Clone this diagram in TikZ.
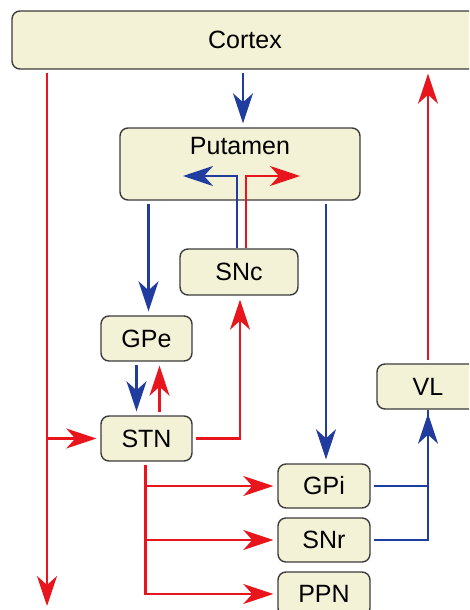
\documentclass[tikz,border=0pt]{standalone}
\usepackage{fontspec}
\setmainfont{Liberation Sans}
\usetikzlibrary{arrows.meta}
\definecolor{boxfill}{HTML}{F4F2D6}
\definecolor{boxline}{HTML}{3C3C3C}
\definecolor{exred}{HTML}{E8161C}
\definecolor{inblue}{HTML}{1F3C9E}

\begin{document}
\begin{tikzpicture}
  [x=1pt,y=-1pt,font=\fontsize{25}{28}\selectfont,
   area/.style={draw=boxline,line width=1.4pt,fill=boxfill,rounded corners=8pt,
     minimum width=91pt,minimum height=45pt,inner sep=0pt},
   excite/.style={draw=exred,line width=2.6pt,
     -{Stealth[length=30pt,width=20pt,inset=9pt]},shorten >=4pt,shorten <=3pt},
   inhibit/.style={excite,draw=inblue}]
  \clip (0,0) rectangle (469,610);

  \node[area,minimum width=466pt,minimum height=58pt] (ctx) at (245,40) {Cortex};
  \node[area,minimum width=240pt,minimum height=72pt,
    label={[anchor=north,yshift=-6pt]north:Putamen}] (put) at (240,164) {};
  \node[area,minimum width=118pt,minimum height=46pt] (snc) at (239,272) {SNc};
  \node[area] (gpe) at (146.5,338.5) {GPe};
  \node[area] (stn) at (146.5,438.5) {STN};
  \node[area,minimum width=92pt,minimum height=44pt] (gpi) at (324,486) {GPi};
  \node[area,minimum width=92pt,minimum height=44pt] (snr) at (324,540) {SNr};
  \node[area,minimum width=92pt,minimum height=44pt] (ppn) at (324,594) {PPN};
  \node[area,minimum width=102pt] (vl) at (428,386.5) {VL};

  \coordinate (pl) at (183,176);
  \coordinate (pr) at (300,176);
  \coordinate (bot) at (47,606);

  % cortex to putamen, inside putamen
  \draw[inhibit] ([xshift=3pt]put.north |- ctx.south) -- ([xshift=3pt]put.north);
  \draw[inhibit,shorten <=0pt,shorten >=0pt] ([xshift=-2pt]snc.north) |- (pl);
  \draw[excite,shorten <=0pt,shorten >=0pt] ([xshift=7pt]snc.north) |- (pr);

  % putamen outputs
  \draw[inhibit] ([xshift=2pt]gpe.north |- put.south) -- ([xshift=2pt]gpe.north);
  \draw[inhibit] ([xshift=2pt]gpi.north |- put.south) -- ([xshift=2pt]gpi.north);

  % gpe and stn
  \draw[inhibit] ([xshift=-10pt]gpe.south) -- ([xshift=-10pt]stn.north);
  \draw[excite] ([xshift=13pt]stn.north) -- ([xshift=13pt]gpe.south);
  \draw[excite] (stn.east) -| ([xshift=1pt]snc.south);

  % cortex descending
  \draw[excite,shorten >=0pt] (ctx.south -| bot) -- (bot);
  \draw[excite,shorten <=0pt] (stn.west -| bot) -- (stn.west);

  \foreach \t in {gpi,snr,ppn}
    \draw[excite] ([xshift=-1pt]stn.south) |- (\t.west);

  % thalamus
  \foreach \s in {gpi,snr}
    \draw[inhibit,-,shorten >=0pt] (\s.east) -| (vl.south);
  \draw[inhibit,shorten <=0pt] ([yshift=-1pt]vl.south |- snr.east) -- (vl.south);
  \draw[excite] (vl.north) -- (vl.north |- ctx.south);

\end{tikzpicture}
\end{document}
